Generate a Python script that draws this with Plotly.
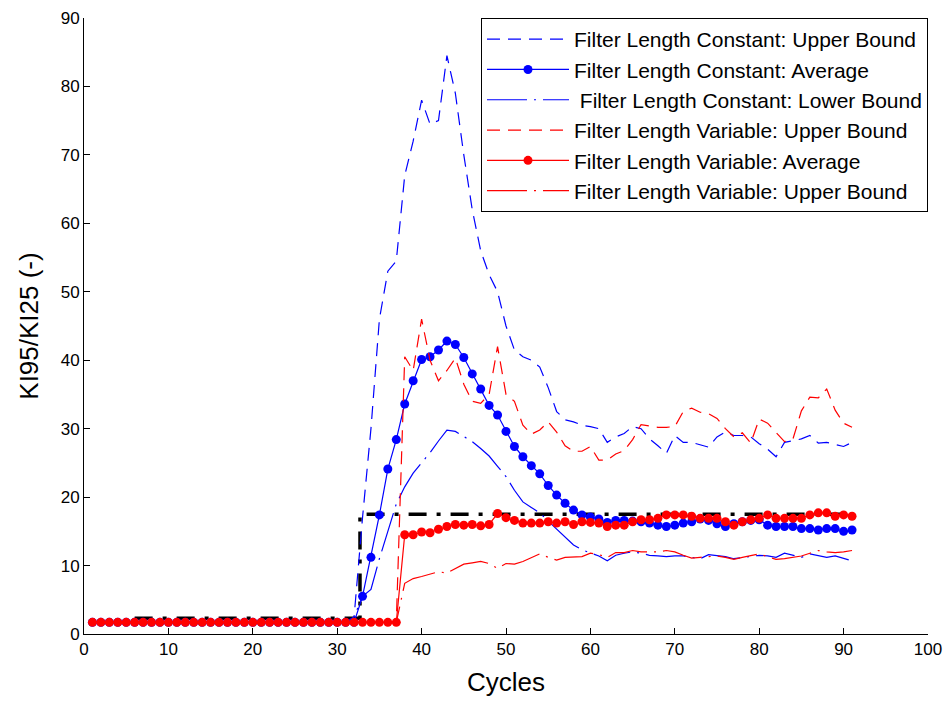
import plotly.graph_objects as go

cycles = list(range(1, 92))

const_upper = [1.7]*31 + [2.5, 17, 30, 46, 53, 54.5, 67, 72, 78, 74.5, 75, 84.5, 79, 70, 62, 56, 52.5, 50, 45,
               41.5, 40.5, 40, 39, 36, 32.5, 31.3, 31, 30.5, 30.3, 30, 28, 28.8, 29.3, 30.3, 30, 28.5, 27.5, 26.4,
               29, 28, 28, 27.6, 27.3, 28.8, 29.5, 29, 29, 28.8, 27.8, 27, 25.9, 28, 28.3, 28.5, 29, 27.9, 28,
               27.7, 27.4, 28]
const_avg = [1.7]*32 + [5.5, 11.2, 17.4, 24.1, 28.4, 33.6, 37.0, 40.1, 40.5, 41.5, 42.8, 42.3, 40.4, 38.0, 35.8,
             33.4, 32.0, 29.6, 27.4, 25.9, 24.6, 23.4, 21.7, 20.3, 19.1, 18.1, 17.4, 17.1, 16.8, 16.3, 16.6, 16.6,
             16.5, 16.4, 16.2, 15.9, 15.7, 15.9, 16.2, 16.4, 16.8, 16.6, 16.1, 15.7, 16.1, 16.4, 16.6, 16.7, 15.9,
             15.7, 15.7, 15.7, 15.4, 15.4, 15.2, 15.4, 15.4, 15.0, 15.2]
const_lower = [1.7]*31 + [2.5, 5.5, 6.5, 11, 15, 19, 21.5, 23.5, 25, 26.5, 28.2, 29.8, 29.6, 28.8, 28.1, 27.1, 26,
               24.5, 23, 21, 19.3, 18.5, 17.7, 16.5, 15.3, 14.2, 13.0, 12.3, 11.8, 11.4, 10.7, 11.5, 11.8, 12.0,
               11.8, 11.5, 11.4, 11.3, 11.4, 11.4, 11.2, 11.0, 11.6, 11.5, 11.3, 11.0, 11.2, 11.4, 11.5, 11.4,
               11.2, 11.8, 11.5, 11.2, 11.7, 11.4, 11.2, 11.4, 11.0, 10.7]
var_upper = [1.7]*37 + [40.5, 38.5, 46, 40, 37, 38.5, 40.3, 36.5, 34, 33.7, 35, 42, 35, 34, 30.5, 29.2, 29.8, 31,
             29.5, 27.5, 26.7, 26.7, 27.4, 25.4, 25.4, 26.3, 26.8, 28.4, 30.6, 30.4, 30.2, 30.2, 30.3, 32.5, 33,
             32.4, 32.2, 31.5, 30, 28.8, 29.4, 27.9, 31.4, 30.8, 29.5, 28.1, 28.5, 32.6, 34.6, 34.5, 35.8, 32.7,
             30.8, 30.2]
var_avg = [1.7]*37 + [14.5, 14.5, 14.9, 14.8, 15.3, 15.7, 16.0, 15.9, 16.0, 15.8, 16.0, 17.6, 17.0, 16.6, 16.2,
           16.2, 16.2, 16.4, 16.2, 16.4, 16.0, 16.4, 16.3, 16.2, 15.7, 15.9, 15.9, 16.4, 16.7, 16.7, 16.9, 17.4,
           17.4, 17.4, 17.2, 16.9, 16.9, 16.9, 16.4, 15.9, 16.4, 16.7, 16.9, 17.4, 16.9, 16.9, 16.9, 16.9, 17.4,
           17.7, 17.7, 17.2, 17.4, 17.2]
var_lower = [1.7]*37 + [7.4, 8.1, 8.4, 8.8, 9.1, 8.9, 9.5, 10.2, 10.4, 10.6, 10.3, 9.6, 10.3, 10.2, 10.6, 11.2,
             11.7, 11.2, 10.8, 11.2, 11.3, 11.3, 11.8, 11.6, 11.2, 11.9, 11.9, 12.2, 12.0, 12.0, 12.0, 12.2, 12.0,
             11.5, 11.1, 11.2, 11.3, 11.4, 11.2, 10.9, 11.2, 11.4, 11.7, 11.3, 10.9, 11.0, 11.2, 11.4, 11.8, 12.2,
             12.0, 11.9, 12.0, 12.2]

target_x = [6, 32.7, 32.7, 91]
target_y = [2.3, 2.3, 17.5, 17.5]

names = ["Filter Length Constant: Upper Bound", "Filter Length Constant: Average",
         " Filter Length Constant: Lower Bound", "Filter Length Variable: Upper Bound",
         "Filter Length Variable: Average", "Filter Length Variable: Upper Bound"]

BLUE = "#0000FF"
RED = "#FF0000"
UP_DASH = "13px,8px"
LO_DASH = "40px,7px,2px,7px"

fig = go.Figure()
fig.add_trace(go.Scatter(x=target_x, y=target_y, mode="lines", showlegend=False,
                         line=dict(color="black", width=3.5, dash="18px,10px,4px,10px")))
series = [
    (const_upper, BLUE, UP_DASH, False),
    (const_avg, BLUE, "solid", True),
    (const_lower, BLUE, LO_DASH, False),
    (var_upper, RED, UP_DASH, False),
    (var_avg, RED, "solid", True),
    (var_lower, RED, LO_DASH, False),
]
for i, (vals, col, dash, mk) in enumerate(series):
    fig.add_trace(go.Scatter(
        x=cycles, y=vals, name=names[i], legendgroup="g%d" % i,
        mode="lines+markers" if mk else "lines",
        line=dict(color=col, width=1.2, dash=dash),
        marker=dict(size=9, color=col) if mk else None,
    ))

fig.update_layout(
    width=950, height=705,
    paper_bgcolor="white", plot_bgcolor="white",
    margin=dict(l=84, r=22, t=18, b=71),
    font=dict(family="Liberation Sans, Arial, sans-serif", color="black"),
    xaxis=dict(range=[0, 100], tickmode="linear", tick0=0, dtick=10, showgrid=False, zeroline=False,
               showline=True, linecolor="black", linewidth=1, ticks="inside", ticklen=6,
               tickcolor="black", tickfont=dict(size=17), automargin=False,
               title=dict(text="Cycles", font=dict(size=26), standoff=14)),
    yaxis=dict(range=[0, 90], tickmode="linear", tick0=0, dtick=10, showgrid=False, zeroline=False,
               showline=True, linecolor="black", linewidth=1, ticks="inside", ticklen=6,
               tickcolor="black", tickfont=dict(size=17), automargin=False,
               title=dict(text="KI95/KI25 (-)", font=dict(size=26), standoff=14)),
    legend=dict(x=1.0, y=1.0, xanchor="right", yanchor="top", bgcolor="white",
                bordercolor="black", borderwidth=1, font=dict(size=21),
                traceorder="grouped", tracegroupgap=0, itemwidth=82),
)

fig.write_html("out.html")
